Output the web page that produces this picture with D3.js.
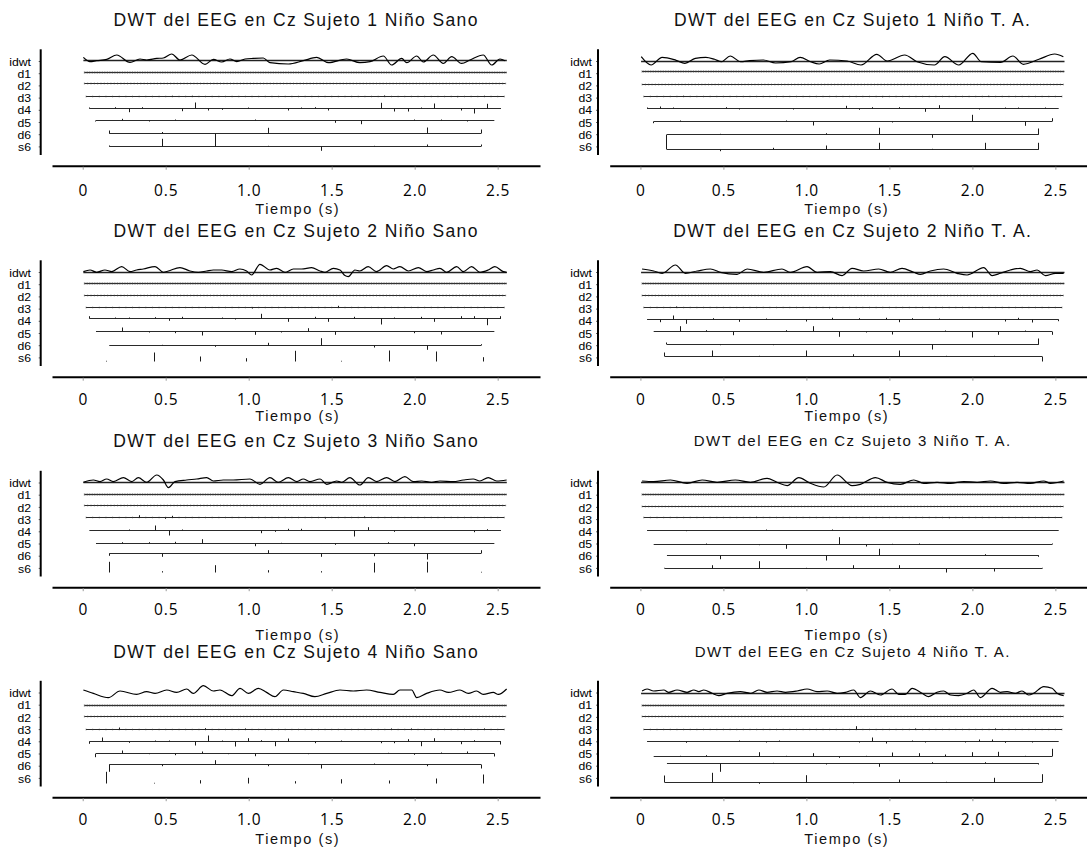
<!DOCTYPE html>
<html><head><meta charset="utf-8">
<script src="https://cdn.jsdelivr.net/npm/d3@7"></script>
<style>body{margin:0;background:#fff}svg{display:block}</style>
</head><body>
<svg id="c" width="1087" height="859"></svg>
<script>
// ---------------- DATA ----------------
const panelTitles = [
  "DWT del EEG en Cz Sujeto 1 Niño Sano", "DWT del EEG en Cz Sujeto 1 Niño T. A.",
  "DWT del EEG en Cz Sujeto 2 Niño Sano", "DWT del EEG en Cz Sujeto 2 Niño T. A.",
  "DWT del EEG en Cz Sujeto 3 Niño Sano", "DWT del EEG en Cz Sujeto 3 Niño T. A.",
  "DWT del EEG en Cz Sujeto 4 Niño Sano", "DWT del EEG en Cz Sujeto 4 Niño T. A."
];
const rowLabels = ["idwt","d1","d2","d3","d4","d5","d6","s6"];
const tickValues = [0, 0.5, 1, 1.5, 2, 2.5];
const tickLabels = ["0","0.5","1.0","1.5","2.0","2.5"];
const axisLabel = "Tiempo (s)";
// time span (s) of the rows idwt, d1..d6
const levelSpans = [[0.004,2.555],[0.01,2.554],[0.01,2.548],[0.02,2.54],[0.04,2.52],[0.08,2.48],[0.16,2.40]];
// coefficient spacing (s) of d1, d2, d3
const coefSpacing = [0.01, 0.02, 0.04];

// reconstructed signal: [t (s), amplitude]
const idwtWaves = [
  [[0.004,3.3],[0.044,-1],[0.084,0],[0.145,1.3],[0.205,5.7],[0.285,-1.7],[0.345,1.7],[0.386,0.7],[0.446,2.3],[0.486,2.7],[0.536,6.7],[0.586,0.7],[0.657,5.7],[0.737,-3.7],[0.787,1.3],[0.837,-1.3],[0.887,1.7],[0.928,-1],[0.978,1.7],[1.028,2.3],[1.088,2.7],[1.128,-2],[1.239,-3.3],[1.329,0],[1.410,3.3],[1.480,-2],[1.590,1.7],[1.670,-2],[1.731,-1],[1.811,4.7],[1.861,-4.3],[1.922,2.3],[1.952,-2],[2.012,4.7],[2.052,-1.3],[2.112,5.7],[2.172,-2.7],[2.223,4],[2.283,-2.7],[2.333,0.7],[2.413,5.7],[2.464,-4.3],[2.514,1.7],[2.544,0]],
  [[0.005,4.3],[0.064,-4],[0.131,3.7],[0.215,0.7],[0.268,-2.3],[0.331,2.7],[0.394,3.7],[0.447,1.7],[0.488,-0.7],[0.541,5],[0.604,-0.7],[0.657,0.3],[0.741,1],[0.814,-2],[0.909,-0.7],[0.962,3.7],[1.025,-0.7],[1.077,-3],[1.140,1],[1.245,0],[1.329,-4],[1.424,6.7],[1.487,0],[1.592,6],[1.666,-0.7],[1.771,-4],[1.834,4.3],[1.918,-4],[2.002,7.7],[2.054,-0.7],[2.17,-1.3],[2.244,5],[2.307,-3.3],[2.401,1.7],[2.496,7],[2.548,4.3]],
  [[0.004,0.7],[0.044,2.3],[0.084,0],[0.134,2.3],[0.175,0.7],[0.235,5.7],[0.285,0.7],[0.325,2.3],[0.365,3.3],[0.436,5.7],[0.486,0],[0.516,1.3],[0.586,4.7],[0.646,1.3],[0.697,0],[0.747,1.3],[0.787,2.3],[0.837,2.3],[0.897,0.7],[0.947,3.3],[0.987,1.3],[1.018,-2.7],[1.068,8],[1.128,2.3],[1.168,4],[1.219,0],[1.269,3.3],[1.319,3.3],[1.379,4.7],[1.43,1.3],[1.46,0],[1.51,4],[1.55,2.3],[1.58,-3.3],[1.6,-4.3],[1.64,2.3],[1.67,1.3],[1.72,5.7],[1.77,0.7],[1.831,6.7],[1.871,3.3],[1.911,5.7],[1.962,1.3],[2.022,4.7],[2.072,0.7],[2.112,2.3],[2.152,4],[2.192,0],[2.253,5.7],[2.293,0.7],[2.343,5.7],[2.393,0],[2.443,2.3],[2.483,5.7],[2.534,0.7],[2.554,0]],
  [[0.01,3.3],[0.08,1.3],[0.131,-1],[0.211,7.3],[0.271,-1],[0.342,1.3],[0.422,3.3],[0.482,0],[0.582,-2],[0.643,3.3],[0.743,0],[0.853,3.3],[0.904,0],[1.004,5.7],[1.064,0],[1.145,0.7],[1.215,-3.3],[1.275,4],[1.345,1.3],[1.436,3.3],[1.506,0],[1.576,4],[1.647,0],[1.687,-2],[1.747,1.3],[1.827,3.3],[1.908,-1],[1.968,-2.7],[2.068,4.7],[2.119,-3.3],[2.169,-1],[2.229,2.3],[2.289,4],[2.35,0.7],[2.39,2.3],[2.44,-3.3],[2.5,-1],[2.55,-1]],
  [[0.004,0],[0.064,2.3],[0.104,0.7],[0.144,3.3],[0.185,0.7],[0.245,4.7],[0.295,0.7],[0.335,4.7],[0.385,0],[0.446,7.3],[0.486,2.3],[0.516,-5.3],[0.556,0.7],[0.626,2.3],[0.687,3.3],[0.747,4.7],[0.787,1.3],[0.847,2.3],[0.907,2.3],[1.008,3.3],[1.068,-2],[1.128,4.7],[1.178,0],[1.239,4.7],[1.289,0.7],[1.329,3.3],[1.369,0.7],[1.43,3.3],[1.47,-2],[1.53,1.3],[1.56,0],[1.61,4.7],[1.67,-2.7],[1.721,4.7],[1.771,0.7],[1.831,4.7],[1.881,0.7],[1.941,5.7],[1.992,0.7],[2.042,1.3],[2.102,0],[2.152,1.3],[2.233,0.7],[2.293,2.3],[2.353,3.3],[2.393,1.3],[2.443,4.7],[2.494,1.3],[2.554,2.3]],
  [[0.01,1.3],[0.08,0.7],[0.181,2.3],[0.281,-1],[0.372,2.3],[0.462,0],[0.572,2.3],[0.663,0],[0.763,4],[0.823,0],[0.884,-3.3],[0.954,4.7],[1.024,-1],[1.105,-4.7],[1.185,7.3],[1.275,-3.3],[1.325,-2],[1.416,4.7],[1.486,0],[1.566,-2],[1.647,2.3],[1.707,-1],[1.787,0],[1.868,-1],[1.948,0.7],[2.028,0],[2.109,1.3],[2.189,-1],[2.269,0],[2.349,-1],[2.43,1.3],[2.47,-1],[2.55,1.3]],
  [[0.004,1.7],[0.064,-1.7],[0.154,-6],[0.225,0.7],[0.325,-2.7],[0.385,0],[0.436,-1.7],[0.506,1.7],[0.566,-0.7],[0.626,2.7],[0.666,-1.7],[0.727,6],[0.787,0.7],[0.827,1.7],[0.897,-4],[0.948,3.3],[0.998,-1.7],[1.058,3.3],[1.108,-0.7],[1.158,-5],[1.209,1.7],[1.269,0],[1.329,-1.7],[1.399,-5],[1.47,-1.7],[1.55,1.7],[1.63,0.7],[1.71,1.7],[1.791,-0.7],[1.871,-2.7],[1.911,1.7],[1.982,1.7],[2.012,-6],[2.072,-1.7],[2.152,1.7],[2.203,-0.7],[2.273,1.7],[2.323,-1.7],[2.373,0.7],[2.413,-2.7],[2.474,-0.7],[2.504,-2.7],[2.554,2.7]],
  [[0.01,2.3],[0.04,4.3],[0.08,2.3],[0.141,3.3],[0.171,1],[0.221,3.3],[0.281,1],[0.322,3.3],[0.352,1.7],[0.382,3.3],[0.432,0],[0.472,-2.3],[0.522,0],[0.602,1.7],[0.663,0],[0.713,3.3],[0.763,1],[0.823,2.3],[0.874,1],[0.944,2.3],[1.004,4.3],[1.064,1.7],[1.125,2.3],[1.185,0],[1.235,1],[1.285,3.3],[1.325,-4.3],[1.386,2.3],[1.446,-1.7],[1.516,4.3],[1.556,-1],[1.596,-1],[1.637,5],[1.697,0],[1.737,-3.3],[1.787,1],[1.827,2.3],[1.868,-1.7],[1.918,-2.3],[1.968,0],[2.008,3.3],[2.048,-4.3],[2.119,5],[2.169,1],[2.209,1.7],[2.259,0],[2.299,2.3],[2.339,-1.7],[2.369,0],[2.43,6.7],[2.48,5],[2.51,0],[2.55,-2.3]]
];

// detail / approximation coefficients: [t (s), value]
const d3Stems = [
  [[0.54,0.7],[0.66,0.7],[1.82,1],[2.26,-0.7],[2.42,0.7]],
  [[0.26,0.7],[1.46,-0.7],[2.10,0.7]],
  [[1.02,-1],[1.54,1.7]],
  [[0.22,1],[1.14,-0.7]],
  [[0.34,2.3],[0.50,-1.3],[0.54,1.7],[1.46,-1],[1.70,1]],
  [[0.70,0.7],[1.86,-0.7]],
  [[0.22,2],[0.74,1.3],[0.98,1],[1.86,1],[1.98,1],[2.42,1]],
  [[1.30,3.3],[1.66,1],[2.14,1]]
];
const d4Stems = [
  [[0.04,1],[0.20,1.3],[0.28,-3.7],[0.36,1.3],[0.60,-2.7],[0.68,6],[0.76,-2],[0.84,-1.3],[1.00,1],[1.24,-2],[1.32,1],[1.40,1.3],[1.48,-2],[1.80,5.7],[1.88,-3],[1.96,-3],[2.04,1],[2.12,5],[2.28,-2],[2.36,-5],[2.44,4.7]],
  [[0.04,1],[0.12,2],[0.20,1],[0.52,1.3],[0.60,-1],[0.92,-1],[1.24,2.7],[1.32,-1.3],[1.40,1.3],[1.56,1.3],[1.72,-3.3],[1.80,3.3],[2.04,-1],[2.20,1],[2.28,1],[2.44,1]],
  [[0.04,2.3],[0.20,1],[0.28,1],[0.44,1.3],[0.52,-2.3],[0.60,1.7],[0.84,1],[0.92,-1],[1.08,4.7],[1.24,-3.3],[1.40,1.7],[1.48,-3.3],[1.64,1.7],[1.80,-6],[1.88,1],[2.04,1.7],[2.12,-3.3],[2.28,2.3],[2.36,2.3],[2.44,-6.7],[2.52,2.3]],
  [[0.12,-2.7],[0.20,4],[0.28,-4.3],[0.44,1.3],[0.60,-2.3],[0.76,1],[1.00,-2],[1.16,1.7],[1.32,1.3],[1.48,1.7],[1.56,-2.7],[1.64,1.3],[1.80,1],[2.20,-2],[2.28,1.7],[2.36,-3],[2.52,-1.7]],
  [[0.28,1],[0.44,5],[0.52,-5],[0.60,1],[1.08,-2.7],[1.16,-1.3],[1.24,1.7],[1.32,1.7],[1.64,-6],[1.72,3.3],[1.88,-1.3],[2.36,-1.7],[2.44,1.3]],
  [[0.28,-0.7],[0.76,1],[1.16,1]],
  [[0.04,-2.3],[0.12,4],[0.28,-1.3],[0.44,1],[0.52,1],[0.68,-4],[0.76,6],[0.84,1],[0.92,-5],[1.00,3.3],[1.08,1.3],[1.16,-4.7],[1.24,3],[1.40,-1.7],[1.56,1],[1.80,-1.7],[1.88,-1.7],[1.96,2.3],[2.04,-4.7],[2.12,3.3],[2.28,-2.7],[2.36,1.3],[2.52,-3]],
  [[0.28,-1.3],[0.60,1],[0.76,-1],[0.84,1],[1.32,-1],[1.40,4],[1.48,-2],[1.64,1],[1.72,-1],[1.96,-1],[2.04,2],[2.12,2],[2.20,-1.3],[2.36,-1]]
];
const d5Stems = [
  [[0.08,-1],[0.24,1.7],[0.40,-1],[0.56,1],[1.04,1],[1.52,-2.3],[1.68,-3.7],[2.00,1],[2.16,1],[2.32,-1]],
  [[0.08,-1.7],[0.24,1],[0.88,1],[1.04,-4],[1.52,-1],[2.00,6.7],[2.32,-4.3],[2.48,3.3]],
  [[0.24,4],[0.40,-1],[0.56,-1.7],[0.72,-4],[1.04,-3.3],[1.20,-1],[1.36,3.3],[1.52,-3.3],[2.00,-1.7],[2.16,-3]],
  [[0.24,5.3],[0.40,1.3],[0.56,-3.7],[0.88,1.3],[1.04,5.3],[1.20,-5.3],[1.36,-1],[1.52,-3],[1.84,1],[2.00,-6],[2.16,-3.3],[2.32,1],[2.48,-3.3]],
  [[0.24,1.3],[0.40,1.3],[0.56,1.7],[0.72,4.3],[1.04,-2.7],[1.20,0.7],[1.52,-1.3],[1.84,1.3],[2.00,-2.7]],
  [[0.40,1],[0.72,-0.7],[0.88,-4.3],[1.20,7.3],[1.36,-2],[1.52,0.7],[1.68,1],[2.48,1]],
  [[0.08,-3.7],[0.24,3],[0.40,-0.7],[0.56,-1.7],[0.72,2],[0.88,-0.7],[1.04,-2.7],[1.36,-0.7],[1.84,0.7],[2.00,-1.3],[2.16,1],[2.32,2],[2.48,-3]],
  [[0.24,0.7],[0.40,1.3],[0.72,4.3],[0.88,0.7],[1.04,3.3],[1.20,-1.3],[1.36,0.7],[1.52,4],[1.68,3.3],[1.84,2],[2.00,4.3],[2.16,4.7],[2.32,0.7],[2.48,7.7]]
];
const d6Stems = [
  [[0.16,3],[0.48,1.5],[1.12,5.7],[2.08,6],[2.40,4]],
  [[0.48,0.7],[1.12,1.3],[1.44,6.7],[1.76,-3.3],[2.40,6]],
  [[0.48,0.7],[0.80,-1.3],[1.12,2.7],[1.44,7.3],[1.76,-2],[2.08,-4.3],[2.40,1.3]],
  [[0.16,2],[0.48,-0.7],[0.80,-0.7],[1.76,-5],[2.40,6]],
  [[0.16,-2.3],[0.48,-3.3],[1.12,3.3],[1.44,-3.3],[1.76,-2.7],[2.08,-6],[2.40,3.3]],
  [[0.48,-3.7],[1.12,-5],[1.44,6.7],[2.08,1.3],[2.40,-1.3]],
  [[0.16,-7.3],[0.48,-1.7],[0.80,4.3],[1.12,-1.7],[1.44,-4],[1.76,1],[2.08,-1.7],[2.40,-4]],
  [[0.48,-8.3],[0.80,0.7],[1.12,-1],[1.44,-3.3],[1.76,1.3],[2.08,1.3],[2.40,-1]]
];
const s6Stems = [
  [[0.16,1],[0.48,7.7],[0.80,13],[1.12,0.7],[1.44,-4.3],[1.76,0.7],[2.08,2],[2.40,2]],
  [[0.16,15],[0.48,-1.7],[0.80,1.7],[1.12,4],[1.44,6.7],[1.76,0.7],[2.08,6.7],[2.40,6.7]],
  [[0.144,0.7],[0.431,9],[0.712,5],[0.988,3.3],[1.279,10.7],[1.56,0.7],[1.847,11],[2.132,10],[2.413,4.3]],
  [[0.147,4],[0.432,6],[0.717,0.7],[0.998,6],[1.281,2.3],[1.562,6],[1.847,0.7],[2.133,0.7],[2.42,-5]],
  [[0.16,10.7],[0.48,1.3],[0.80,7.3],[1.12,2.3],[1.44,1.3],[1.76,9.7],[2.08,10.7],[2.40,0.7]],
  [[0.147,0.7],[0.432,3.3],[0.717,7.3],[0.998,0.7],[1.281,3.3],[1.562,3.3],[1.847,-4],[2.133,-3],[2.42,0.7]],
  [[0.144,11.7],[0.431,0.7],[0.712,3.3],[0.998,5.7],[1.279,2.3],[1.56,4.3],[1.847,3],[2.132,5],[2.413,9]],
  [[0.147,7],[0.432,9.7],[0.717,-1.3],[0.998,7.3],[1.281,-0.7],[1.562,3],[1.847,0.7],[2.133,4.7],[2.42,8.3]]
];
// mean level of each row (idwt..s6) relative to its nominal position
const baseLevels = [
  [0.3,1.2,1.7,1.6,0.8,1.7,0.9,-0.3],
  [0,1.5,1.1,0.9,1.1,0.3,-0.1,-2.9],
  [-0.3,0.9,1.4,1.3,2.5,1.3,0.2,-4.3],
  [-0.3,0.9,1.4,1.3,1.8,1.7,0.9,0.7],
  [0.2,0.7,1.2,1.8,1.3,0.2,2.4,-4.4],
  [0.2,0.4,0.9,1.4,1.0,-0.5,0,-0.4],
  [0.8,-0.3,0.2,0.1,0.3,0.5,1.4,-5.4],
  [-0.8,-0.3,0.2,0.1,0.3,-3.2,2.4,-4.4]
];

// ---------------- LAYOUT / STYLE ----------------
const W = 1087, H = 859;
const xDomain = [-0.185, 2.755];
const rowStep = 12.2;
const colLayout = [
  {x0:52, x1:540, yAxisX:40.7, labelX:31, titleX:295.5, tiempoX:297},
  {x0:609.7, x1:1097.7, yAxisX:598, labelX:592, titleX:852, tiempoX:846}
];
const rowLayout = [
  {top:61,    titleY:19.5,  tickOff:24.5, tiempoY:209},
  {top:272,   titleY:230.5, tickOff:23,   tiempoY:416},
  {top:482.5, titleY:441,   tickOff:22.5, tiempoY:634.5},
  {top:692.5, titleY:652,   tickOff:22.5, tiempoY:839}
];
const titleStyle = [[17.5,365],[17.5,357],[17.5,365],[17.5,359],[17.5,366],[15,318],[17.5,366],[15,316]];
const hiddenBaselines = [[],[],[7],[],[7],[],[0,7],[]];
const SANS = "'Liberation Sans', Arial, sans-serif";
const TICKFONT = "'Open Sans', 'DejaVu Sans', sans-serif";
const INK = "#1a1a1a";

const svg = d3.select("#c");
svg.append("rect").attr("width", W).attr("height", H).attr("fill", "#fff");

// text widened to a target width mostly through letter spacing (keeps strokes thin)
function label(g, x, y, str, size, anchor, width) {
  const t = g.append("text").attr("x", x).attr("y", y).attr("dy", "0.35em")
    .attr("font-family", SANS).attr("font-size", size).attr("text-anchor", anchor)
    .attr("fill", "#111").text(str);
  if (width) {
    const w = t.node().getComputedTextLength();
    const ls = (width - w) / str.length;
    t.attr("letter-spacing", ls.toFixed(2) + "px");
    if (anchor === "middle") t.attr("x", x + ls / 2);
  }
  return t;
}
const crisp = v => Math.round(v - 0.5) + 0.5;

panelTitles.forEach((title, p) => {
  const r = Math.floor(p / 2), c = p % 2;
  const C = colLayout[c], R = rowLayout[r];
  const g = svg.append("g");

  const xs = d3.scaleLinear().domain(xDomain).range([C.x0, C.x1]);
  const ys = d3.scalePoint().domain(rowLabels).range([R.top, R.top + 7 * rowStep]);
  const amp = d3.scaleLinear().domain([-1, 1]).range([1, -1]);
  const base = i => ys(rowLabels[i]) + amp(baseLevels[p][i]);

  // title
  label(g, C.titleX, R.titleY, title, titleStyle[p][0], "middle", titleStyle[p][1]);

  // y axis with row labels
  const yAxis = d3.axisLeft(ys).tickSize(2).tickSizeOuter(0).tickFormat("");
  const ya = g.append("g").attr("transform", `translate(${C.yAxisX},0)`).call(yAxis);
  ya.select(".domain").remove();
  ya.selectAll(".tick line").attr("stroke", "#666");
  g.append("line").attr("x1", C.yAxisX).attr("x2", C.yAxisX)
    .attr("y1", R.top - 11.7).attr("y2", R.top + 94)
    .attr("stroke", "#000").attr("stroke-width", 2);
  rowLabels.forEach(lab => {
    const t = g.append("text").attr("x", C.labelX).attr("y", ys(lab) + 0.8).attr("dy", "0.35em")
      .attr("font-family", SANS).attr("font-size", 11).attr("text-anchor", "end")
      .attr("fill", "#000").text(lab);
    const w = t.node().getComputedTextLength();
    t.attr("textLength", w * 1.11).attr("lengthAdjust", "spacingAndGlyphs");
  });

  // x axis
  const axisY = R.top + 104.7;
  const xAxis = d3.axisBottom(xs).tickValues(tickValues)
    .tickFormat((d, i) => tickLabels[i]).tickSize(3).tickSizeOuter(0)
    .tickPadding(R.tickOff - 5.4 - 3);
  const xa = g.append("g").attr("transform", `translate(0,${axisY})`).call(xAxis);
  xa.select(".domain").attr("stroke", "#000").attr("stroke-width", 2);
  xa.selectAll(".tick line").attr("stroke", "#999").attr("transform", "translate(0,1)");
  xa.selectAll(".tick text").attr("font-family", TICKFONT).attr("font-size", 15.5)
    .attr("fill", "#000").attr("letter-spacing", "0.8px");
  label(g, C.tiempoX, R.tiempoY, axisLabel, 14.5, "middle", 85);

  // rows
  const spanOf = i => i < 7 ? levelSpans[i] : d3.extent(s6Stems[p], d => d[0]);
  rowLabels.forEach((lab, i) => {
    if (hiddenBaselines[p].includes(i)) return;
    const [t0, t1] = spanOf(i);
    g.append("line").attr("x1", xs(t0)).attr("x2", xs(t1))
      .attr("y1", crisp(base(i))).attr("y2", crisp(base(i)))
      .attr("stroke", i === 0 ? "#222" : "#2a2a2a").attr("stroke-width", i === 0 ? 1.3 : 1);
  });
  // dense small coefficients of d1..d3 (texture of tiny stems)
  [[1, 2.6, 0.55], [2, 2.2, 0.5], [3, 1.8, 0.4]].forEach(([i, sw, op]) => {
    const [t0, t1] = levelSpans[i];
    const step = xs(coefSpacing[i - 1]) - xs(0);
    g.append("line").attr("x1", xs(t0) - 0.5).attr("x2", xs(t1) + 0.5)
      .attr("y1", crisp(base(i))).attr("y2", crisp(base(i)))
      .attr("stroke", "#444").attr("stroke-width", sw).attr("stroke-opacity", op)
      .attr("stroke-dasharray", `1 ${(step - 1).toFixed(2)}`);
  });
  // stems
  const stemSets = {3: d3Stems, 4: d4Stems, 5: d5Stems, 6: d6Stems, 7: s6Stems};
  Object.keys(stemSets).forEach(k => {
    const i = +k, b = crisp(base(i));
    g.append("g").selectAll("line").data(stemSets[k][p]).join("line")
      .attr("x1", d => crisp(xs(d[0]))).attr("x2", d => crisp(xs(d[0])))
      .attr("y1", b).attr("y2", d => b + amp(d[1]))
      .attr("stroke", INK).attr("stroke-width", 1);
  });
  // reconstructed signal
  const b0 = base(0);
  const line = d3.line().x(d => xs(d[0])).y(d => b0 + amp(d[1])).curve(d3.curveMonotoneX);
  g.append("path").datum(idwtWaves[p]).attr("d", line)
    .attr("fill", "none").attr("stroke", "#000").attr("stroke-width", 1.2);
});
</script>
</body></html>
